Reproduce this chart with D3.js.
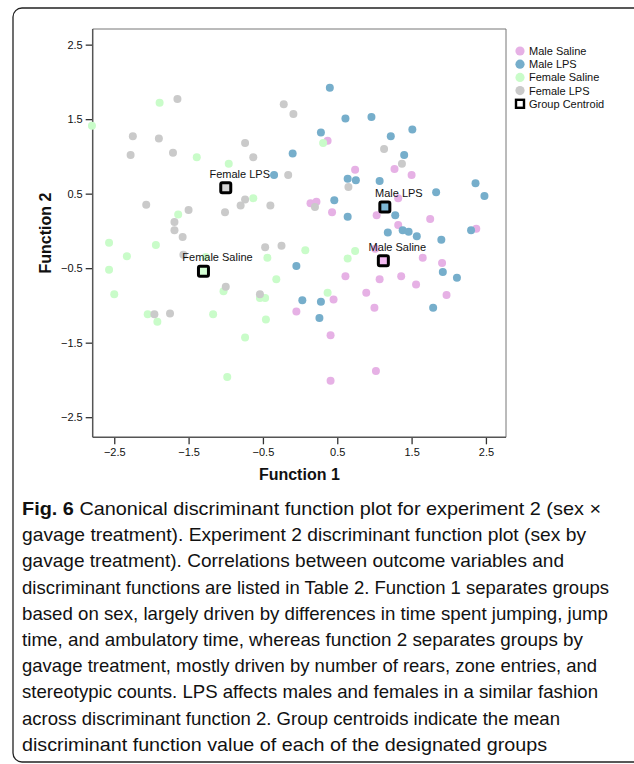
<!DOCTYPE html>
<html>
<head>
<meta charset="utf-8">
<script src="https://cdn.jsdelivr.net/npm/d3@7"></script>
<style>
	body { margin: 0; background: #fff; }
	svg { display: block; }
	text { font-family: 'Liberation Sans', Arial, sans-serif; fill: #111; }
</style>
</head>
<body>
<svg id="chart" width="634" height="764"></svg>
<script>
const groups = ['Male Saline', 'Male LPS', 'Female Saline', 'Female LPS']
const groupColors = ['#e6b1e5', '#76aecb', '#c9fcc9', '#cacaca']

// discriminant scores [function 1, function 2]
const maleSaline = [
	[0.37, 1.21], [0.74, 0.82], [1.27, 0.83], [1.50, 0.75], [0.14, 0.37], [0.22, 0.39],
	[0.43, 0.25], [1.03, 0.21], [1.32, 0.44], [1.32, 0.08], [1.75, 0.16], [2.37, 0.03],
	[1.01, -0.24], [1.65, -0.36], [1.91, -0.43], [0.61, -0.61], [1.07, -0.65], [1.36, -0.61],
	[1.56, -0.72], [1.97, -0.86], [0.45, -0.92], [0.89, -0.83], [1.00, -1.03], [-0.05, -1.08],
	[0.41, -1.40], [1.02, -1.88], [0.41, -2.01]
]
const maleLPS = [
	[0.40, 1.92], [0.61, 1.51], [0.96, 1.53], [0.28, 1.32], [1.22, 1.27], [1.51, 1.36],
	[-0.10, 1.04], [1.40, 1.02], [0.64, 0.70], [0.75, 0.68], [1.07, 0.67], [1.83, 0.52],
	[2.36, 0.64], [2.48, 0.47], [0.46, 0.41], [0.64, 0.19], [1.28, 0.21], [1.18, -0.02],
	[1.38, 0.01], [1.46, -0.01], [1.57, -0.07], [1.90, -0.12], [2.30, 0.01], [-0.35, 0.75],
	[-0.05, -0.47], [1.92, -0.55], [2.11, -0.63], [0.03, -0.93], [0.28, -0.95], [0.26, -1.17],
	[1.79, -1.03]
]
const femaleSaline = [
	[-1.89, 1.72], [-2.80, 1.41], [-1.39, 0.99], [-0.96, 0.90], [-1.64, 0.22], [-0.63, 0.44],
	[-2.57, -0.16], [-1.94, -0.19], [-2.33, -0.34], [-2.57, -0.52], [-2.50, -0.85], [-2.05, -1.12],
	[-1.92, -1.22], [-1.17, -1.12], [-1.03, -0.81], [-0.44, -0.36], [-0.32, -0.65], [-0.54, -0.90],
	[-0.47, -0.90], [-0.46, -1.19], [-0.74, -1.43], [-0.98, -1.96], [0.31, 1.18], [0.07, -0.26],
	[0.74, -0.27], [0.64, -0.37], [0.37, -0.83], [-1.27, -0.35]
]
const femaleLPS = [
	[-1.65, 1.77], [-0.22, 1.70], [-0.09, 1.57], [-2.25, 1.27], [-1.90, 1.24], [-2.28, 1.02],
	[-1.71, 1.05], [-0.74, 1.18], [-0.63, 0.99], [-0.16, 0.75], [-2.07, 0.35], [-1.50, 0.28],
	[-1.69, 0.12], [-1.69, 0.01], [-1.58, -0.08], [-1.01, 0.25], [-0.80, 0.34], [-0.74, 0.42],
	[-0.40, 0.34], [1.13, 1.10], [1.37, 0.90], [0.65, 0.59], [0.20, 0.32], [-0.47, -0.22],
	[-0.25, -0.20], [-1.00, -0.75], [-0.54, -0.85], [-1.96, -1.12], [-1.75, -1.11], [-1.57, -0.32]
]
const centroids = [[1.12, -0.40], [1.14, 0.32], [-1.30, -0.54], [-1.00, 0.58]]

const xTicks = [-2.5, -1.5, -0.5, 0.5, 1.5, 2.5]
const yTicks = [-2.5, -1.5, -0.5, 0.5, 1.5, 2.5]

const captionLines = [
	'gavage treatment). Experiment 2 discriminant function plot (sex by',
	'gavage treatment). Correlations between outcome variables and',
	'discriminant functions are listed in Table 2. Function 1 separates groups',
	'based on sex, largely driven by differences in time spent jumping, jump',
	'time, and ambulatory time, whereas function 2 separates groups by',
	'gavage treatment, mostly driven by number of rears, zone entries, and',
	'stereotypic counts. LPS affects males and females in a similar fashion',
	'across discriminant function 2. Group centroids indicate the mean',
	'discriminant function value of each of the designated groups'
]
const captionWidths = [579, 564, 542, 587, 586, 561, 575, 576, 538, 525]

const svg = d3.select('#chart')

const plot = { left: 92.7, right: 506, top: 29, bottom: 437.3 }

const x = d3.scaleLinear().domain([-2.79, 2.77]).range([plot.left, plot.right])
const y = d3.scaleLinear().domain([-2.77, 2.71]).range([plot.bottom, plot.top])

function drawFrame() {
	svg.append('rect')
		.attr('x', 13)
		.attr('y', 8)
		.attr('width', 640)
		.attr('height', 754)
		.attr('rx', 9)
		.attr('fill', 'none')
		.attr('stroke', '#222')
		.attr('stroke-width', 1.3)
}

function drawAxes() {
	const fmt = d3.format('.1f')

	svg.append('g')
		.attr('transform', `translate(0,${plot.bottom})`)
		.call(d3.axisBottom(x).tickValues(xTicks).tickSize(7).tickPadding(4).tickFormat(fmt))
	svg.append('g')
		.attr('transform', `translate(${plot.left},0)`)
		.call(d3.axisLeft(y).tickValues(yTicks).tickSize(7).tickPadding(3).tickFormat(fmt))

	svg.selectAll('.domain').remove()
	svg.selectAll('.tick line').attr('stroke', '#333').attr('stroke-width', 1.3)
	svg.selectAll('.tick text')
		.attr('font-size', 11)
		.attr('font-family', "'Liberation Sans', Arial, sans-serif")
		.attr('fill', '#111')

	// plot box: top/right lighter than the axis lines
	svg.append('line')
		.attr('x1', plot.left).attr('x2', plot.right)
		.attr('y1', plot.top).attr('y2', plot.top)
		.attr('stroke', '#777').attr('stroke-width', 1)
	svg.append('line')
		.attr('x1', plot.right).attr('x2', plot.right)
		.attr('y1', plot.top).attr('y2', plot.bottom)
		.attr('stroke', '#777').attr('stroke-width', 1)
	svg.append('line')
		.attr('x1', plot.left).attr('x2', plot.left)
		.attr('y1', plot.top).attr('y2', plot.bottom)
		.attr('stroke', '#555').attr('stroke-width', 1.5)
	svg.append('line')
		.attr('x1', plot.left).attr('x2', plot.right)
		.attr('y1', plot.bottom).attr('y2', plot.bottom)
		.attr('stroke', '#555').attr('stroke-width', 1.5)

	svg.append('text')
		.attr('x', (plot.left + plot.right) / 2)
		.attr('y', 480)
		.attr('text-anchor', 'middle')
		.attr('font-size', 16)
		.attr('font-weight', 'bold')
		.text('Function 1')

	svg.append('text')
		.attr('transform', `translate(51,${(plot.top + plot.bottom) / 2}) rotate(-90)`)
		.attr('text-anchor', 'middle')
		.attr('font-size', 16)
		.attr('font-weight', 'bold')
		.text('Function 2')
}

function drawPoints() {
	const series = [maleSaline, maleLPS, femaleSaline, femaleLPS]
	series.forEach((data, i) => {
		svg.append('g')
			.selectAll('circle')
			.data(data)
			.join('circle')
				.attr('cx', d => x(d[0]))
				.attr('cy', d => y(d[1]))
				.attr('r', 4)
				.attr('fill', groupColors[i])
	})
}

function drawCentroids() {
	const g = svg.append('g')
		.selectAll('g')
		.data(centroids)
		.join('g')
			.attr('transform', d => `translate(${x(d[0])},${y(d[1])})`)

	g.append('rect')
		.attr('x', -5)
		.attr('y', -5)
		.attr('width', 10)
		.attr('height', 10)
		.attr('rx', 1.5)
		.attr('fill', (d, i) => d3.color(groupColors[i]).brighter(0.15))
		.attr('stroke', '#000')
		.attr('stroke-width', 3)

	g.append('text')
		.attr('x', 14)
		.attr('y', -10)
		.attr('text-anchor', 'middle')
		.attr('font-size', 11)
		.text((d, i) => groups[i])
}

function drawLegend() {
	const legend = svg.append('g').attr('transform', 'translate(520,51)')
	const items = groups.concat(['Group Centroid'])

	const row = legend.selectAll('g')
		.data(items)
		.join('g')
			.attr('transform', (d, i) => `translate(0,${i * 13.2})`)

	row.filter((d, i) => i < groups.length)
		.append('circle')
		.attr('r', 4.6)
		.attr('fill', (d, i) => groupColors[i])

	row.filter((d, i) => i === groups.length)
		.append('rect')
		.attr('x', -4)
		.attr('y', -4)
		.attr('width', 8)
		.attr('height', 8)
		.attr('fill', '#fff')
		.attr('stroke', '#000')
		.attr('stroke-width', 2.4)

	row.append('text')
		.attr('x', 9)
		.attr('dy', '0.36em')
		.attr('font-size', 11)
		.text(d => d)
}

function drawCaption() {
	const lineHeight = 26.2
	const top = 515
	const font = "'Roboto', 'Liberation Sans', sans-serif"

	const first = svg.append('text')
		.attr('x', 22)
		.attr('y', top)
		.attr('font-size', 19)
		.attr('font-family', font)
		.attr('font-weight', 300)
		.attr('fill', '#1a1a1a')
		.attr('textLength', captionWidths[0])
		.attr('lengthAdjust', 'spacingAndGlyphs')
	first.append('tspan').attr('font-weight', 'bold').text('Fig. 6')
	first.append('tspan').text(' Canonical discriminant function plot for experiment 2 (sex \u00d7')

	svg.selectAll('.caption-line')
		.data(captionLines)
		.join('text')
			.attr('class', 'caption-line')
			.attr('x', 22)
			.attr('y', (d, i) => top + (i + 1) * lineHeight)
			.attr('font-size', 19)
			.attr('font-family', font)
			.attr('font-weight', 300)
			.attr('fill', '#1a1a1a')
			.attr('textLength', (d, i) => captionWidths[i + 1])
			.attr('lengthAdjust', 'spacingAndGlyphs')
			.text(d => d)
}

drawFrame()
drawAxes()
drawPoints()
drawCentroids()
drawLegend()
drawCaption()
</script>
</body>
</html>
